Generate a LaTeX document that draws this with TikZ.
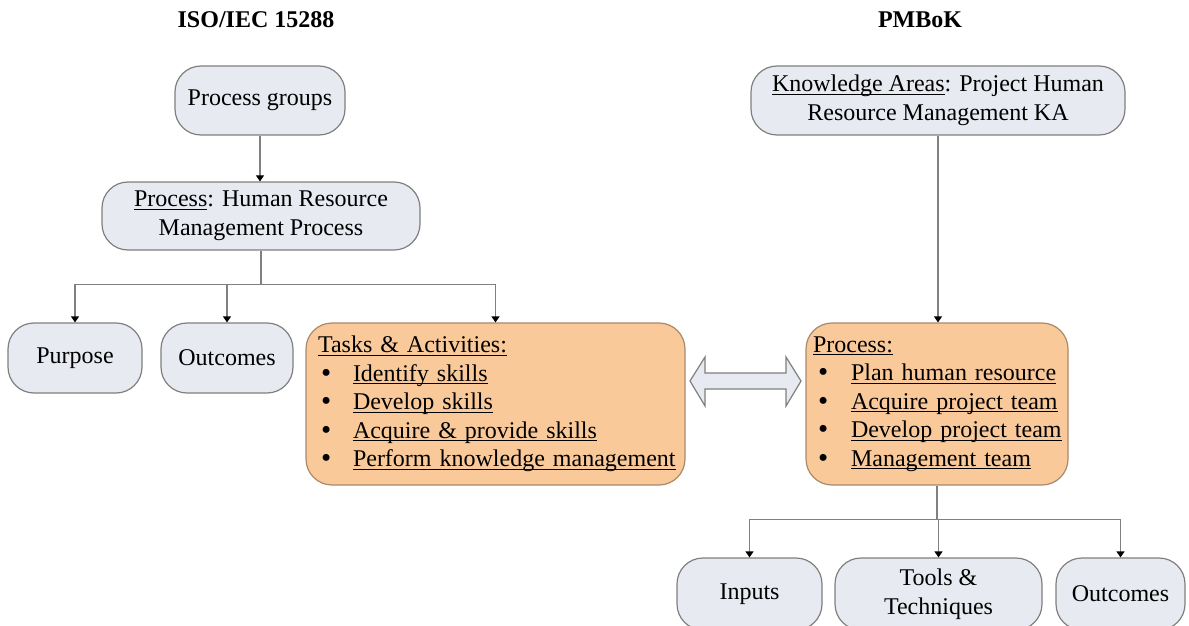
\documentclass[tikz,border=0pt]{standalone}
\usepackage{fontspec}
\setmainfont{Liberation Serif}
\usetikzlibrary{arrows.meta}
\definecolor{boxgray}{HTML}{E7EAF0}
\definecolor{edgegray}{HTML}{7F7F7F}
\definecolor{peach}{HTML}{FAC999}
\definecolor{peachedge}{HTML}{A8896A}
\definecolor{linegray}{HTML}{808080}
\newsavebox\myulbox
\newcommand\myul[1]{\sbox\myulbox{#1}\rlap{\rule[-1.6pt]{\wd\myulbox}{0.7pt}}\usebox\myulbox}
\newcommand\mybul[1]{\hspace*{#1}\smash{\raisebox{-0.4pt}{\fontsize{14.5}{12}\selectfont•}}}
\begin{document}
\begin{tikzpicture}[x=0.5pt,y=-0.5pt,
  gbox/.style={draw=edgegray, line width=0.6pt, fill=boxgray, rounded corners=13pt, align=center, inner sep=0pt, font=\fontsize{12}{14.5}\selectfont},
  obox/.style={draw=peachedge, line width=0.6pt, fill=peach, rounded corners=13pt, align=left, inner ysep=0pt, font=\fontsize{12}{14.25}\selectfont},
  title/.style={font=\fontsize{12}{14}\selectfont\bfseries, anchor=base},
  conn/.style={draw=linegray, line width=0.6pt},
  arr/.style={conn, -{Triangle[width=4pt,length=3pt,color=black]}},
  dblarrow/.style={draw=edgegray, line width=0.6pt, fill=boxgray}
]
\useasboundingbox (0,0) rectangle (1189,626);

% titles
\node[title] (t1) at (256,28) {ISO/IEC 15288};
\node[title] (t2) at (920,28) {PMBoK};

% left column
\node[gbox, minimum width=85pt, minimum height=34.5pt] (pg) at (260,100.5) {Process groups};
\node[gbox, minimum width=159pt, minimum height=34pt] (hrm) at (261,216) {\myul{Process}: Human Resource\\Management Process};
\node[gbox, minimum width=67pt, minimum height=35pt] (purpose) at (75,358) {Purpose};
\node[gbox, minimum width=66pt, minimum height=35pt] (outc1) at (227,358) {Outcomes};
\node[obox, inner xsep=6pt, text width=177.5pt, minimum height=81pt] (tasks) at (495.5,404) {%
\myul{Tasks \& Activities:}\\
\makebox[17.5pt][l]{\mybul{1.5pt}}\myul{Identify skills}\\
\makebox[17.5pt][l]{\mybul{1.5pt}}\myul{Develop skills}\\
\makebox[17.5pt][l]{\mybul{1.5pt}}\myul{Acquire \& provide skills}\\
\makebox[17.5pt][l]{\mybul{1.5pt}}\myul{Perform knowledge management}};

% right column
\node[gbox, minimum width=187pt, minimum height=34.5pt] (ka) at (938,100.5) {\myul{Knowledge Areas}: Project Human\\Resource Management KA};
\node[obox, inner xsep=3.5pt, text width=124pt, minimum height=81pt] (proc) at (937,404) {%
\myul{Process:}\\
\makebox[19pt][l]{\mybul{2.5pt}}\myul{Plan human resource}\\
\makebox[19pt][l]{\mybul{2.5pt}}\myul{Acquire project team}\\
\makebox[19pt][l]{\mybul{2.5pt}}\myul{Develop project team}\\
\makebox[19pt][l]{\mybul{2.5pt}}\myul{Management team}};
\node[gbox, minimum width=72.5pt, minimum height=36pt] (inputs) at (749.5,594) {Inputs};
\node[gbox, minimum width=103.5pt, minimum height=36pt] (tools) at (938.5,594) {Tools \&\\Techniques};
\node[gbox, minimum width=64.5pt, minimum height=36pt] (outc2) at (1120.5,594) {Outcomes};

% connectors left
\draw[arr] (pg.south) -- (pg.south |- hrm.north);
\path (hrm.south) ++(0,34) coordinate (j1);
\draw[conn] (hrm.south) -- (j1);
\draw[arr] (j1) -| (purpose.north);
\draw[arr] (j1) -| (outc1.north);
\draw[arr] (j1) -| (tasks.north);

% connectors right
\draw[arr] (ka.south) -- (ka.south |- proc.north);
\path (proc.south) ++(0,34) coordinate (j2);
\draw[conn] (proc.south) -- (j2);
\draw[arr] (j2) -| (inputs.north);
\draw[arr] (j2) -| (tools.north);
\draw[arr] (j2) -| (outc2.north);

% double arrow between tasks and process
\draw[dblarrow] (690,381) -- (705,357) -- (705,373) -- (786,373) -- (786,357) -- (801,381)
  -- (786,406) -- (786,389) -- (705,389) -- (705,406) -- cycle;
\end{tikzpicture}
\end{document}
